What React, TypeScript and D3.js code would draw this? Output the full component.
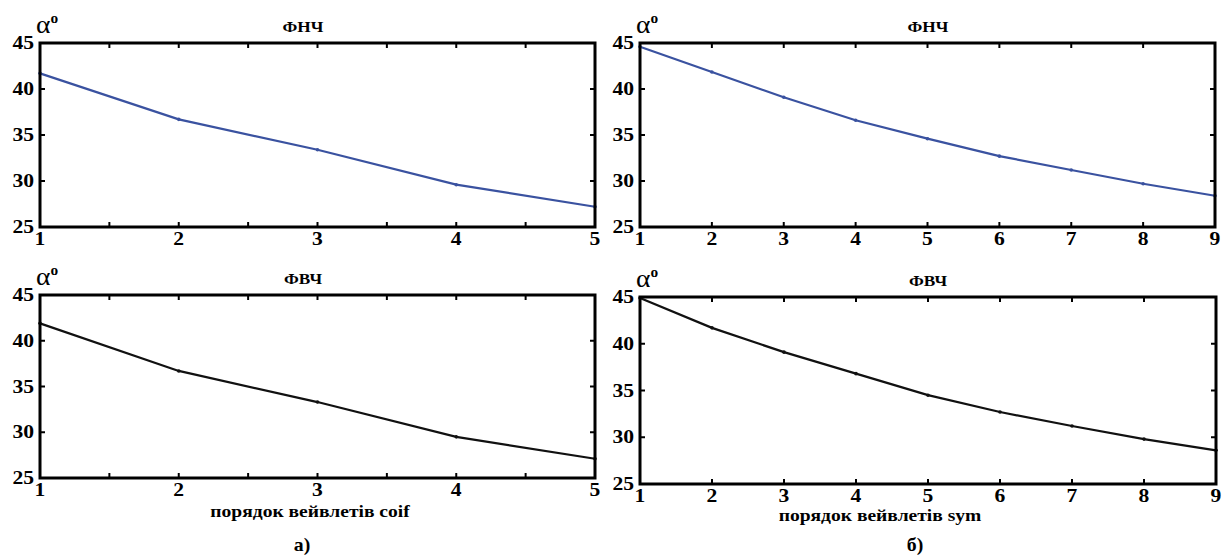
import React, { useEffect, useRef } from "react";
import * as d3 from "d3";

// coif wavelets (orders 1..5)
const coifOrders = [1, 2, 3, 4, 5];
const coifLowpass = [41.7, 36.7, 33.4, 29.6, 27.2];
const coifHighpass = [41.9, 36.7, 33.3, 29.5, 27.1];

// sym wavelets (orders 1..9)
const symOrders = [1, 2, 3, 4, 5, 6, 7, 8, 9];
const symLowpass = [44.6, 41.85, 39.1, 36.6, 34.6, 32.7, 31.2, 29.7, 28.4];
const symHighpass = [44.9, 41.7, 39.1, 36.8, 34.5, 32.7, 31.2, 29.8, 28.6];

const yTicks = [25, 30, 35, 40, 45];
const coifXTicks = [1, 1.5, 2, 2.5, 3, 3.5, 4, 4.5, 5];
const coifXLabels = [1, 2, 3, 4, 5];
const symXTicks = [1, 2, 3, 4, 5, 6, 7, 8, 9];

const FONT = "'Liberation Serif', 'DejaVu Serif', serif";
const SX = 1.2; // the scanned figure's lettering is wider than Times

const panels = [
  { title: "ФНЧ", orders: coifOrders, values: coifLowpass, xTicks: coifXTicks, xLabels: coifXLabels, color: "#3a52a0", box: [40, 595, 43, 227], titleX: 303 },
  { title: "ФВЧ", orders: coifOrders, values: coifHighpass, xTicks: coifXTicks, xLabels: coifXLabels, color: "#111", box: [40, 595, 295, 478], titleX: 303 },
  { title: "ФНЧ", orders: symOrders, values: symLowpass, xTicks: symXTicks, xLabels: symXTicks, color: "#3a52a0", box: [640, 1215, 43, 227], titleX: 928 },
  { title: "ФВЧ", orders: symOrders, values: symHighpass, xTicks: symXTicks, xLabels: symXTicks, color: "#111", box: [640, 1216, 297, 484], titleX: 928 },
];

export default function App() {
  const ref = useRef<SVGSVGElement>(null);

  useEffect(() => {
    if (!ref.current) return;
    const svg = d3.select(ref.current);
    svg.selectAll("*").remove();

    const label = (parent: any, x: number, y: number, txt: string, size: number, anchor: string, sx = SX) =>
      parent
        .append("text")
        .attr("transform", `translate(${x},${y}) scale(${sx},1)`)
        .attr("text-anchor", anchor)
        .attr("font-family", FONT)
        .attr("font-weight", "bold")
        .attr("font-size", size)
        .text(txt);

    panels.forEach((p) => {
      const [x0, x1, y0, y1] = p.box;
      const x = d3.scaleLinear().domain(d3.extent(p.orders) as [number, number]).range([x0, x1]);
      const y = d3.scaleLinear().domain([25, 45]).range([y1, y0]);
      const g = svg.append("g");

      // data line
      const pts = p.orders.map((o, i) => [o, p.values[i]] as [number, number]);
      g.append("path")
        .attr("d", d3.line<[number, number]>().x((d) => x(d[0])).y((d) => y(d[1]))(pts))
        .attr("fill", "none")
        .attr("stroke", p.color)
        .attr("stroke-width", 2.2);
      g.selectAll(".pt")
        .data(pts)
        .enter()
        .append("circle")
        .attr("cx", (d) => x(d[0]))
        .attr("cy", (d) => y(d[1]))
        .attr("r", 1.8)
        .attr("fill", p.color);

      // ticks inside the frame, on all sides
      const tl = 5;
      p.xTicks.forEach((t) => {
        g.append("line").attr("x1", x(t)).attr("x2", x(t)).attr("y1", y1).attr("y2", y1 - tl).attr("stroke", "#000").attr("stroke-width", 2);
        g.append("line").attr("x1", x(t)).attr("x2", x(t)).attr("y1", y0).attr("y2", y0 + tl).attr("stroke", "#000").attr("stroke-width", 2);
      });
      yTicks.forEach((t) => {
        g.append("line").attr("x1", x0).attr("x2", x0 + tl).attr("y1", y(t)).attr("y2", y(t)).attr("stroke", "#000").attr("stroke-width", 2);
        g.append("line").attr("x1", x1).attr("x2", x1 - tl).attr("y1", y(t)).attr("y2", y(t)).attr("stroke", "#000").attr("stroke-width", 2);
      });

      // frame
      g.append("rect")
        .attr("x", x0).attr("y", y0)
        .attr("width", x1 - x0).attr("height", y1 - y0)
        .attr("fill", "none").attr("stroke", "#000").attr("stroke-width", 3);

      // tick labels
      p.xLabels.forEach((d) => label(g, x(d), y1 + 18, String(d), 18, "middle"));
      yTicks.forEach((d) => label(g, x0 - 6, y(d) + 6, String(d), 18, "end"));

      // alpha label
      const a = g.append("text")
        .attr("transform", `translate(${x0 - 4},${y0 - 10}) scale(1.1,1)`)
        .attr("font-family", FONT);
      a.append("tspan").attr("font-size", 25).text("α");
      a.append("tspan").attr("font-size", 14).attr("font-weight", "bold").attr("dy", -10).text("o");

      // title
      label(g, p.titleX, y0 - 11, p.title, 15, "middle", 1.15);
    });

    label(svg, 310, 517, "порядок вейвлетів coif", 17, "middle", 1.15);
    label(svg, 880, 521, "порядок вейвлетів sym", 17, "middle", 1.15);
    label(svg, 302, 551, "а)", 18, "middle", 1.1);
    label(svg, 915, 551, "б)", 18, "middle", 1.1);
  }, []);

  return (
    <svg
      ref={ref}
      width={1224}
      height={558}
      style={{ position: "absolute", left: 0, top: 0, background: "#fff" }}
    />
  );
}
